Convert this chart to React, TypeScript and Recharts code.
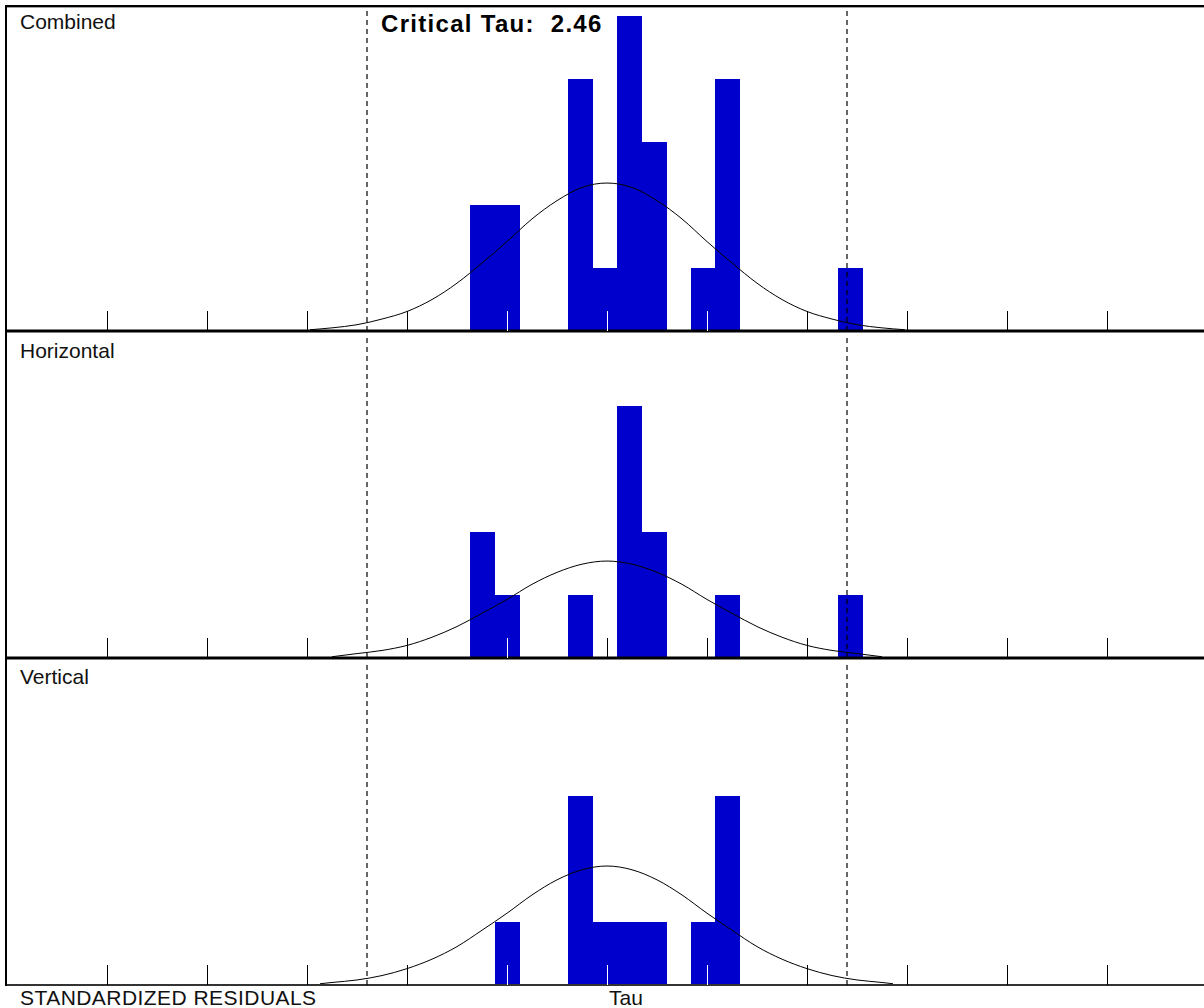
import React from "react";
import { ComposedChart, Bar, Line, XAxis, YAxis, ReferenceLine } from "recharts";

// histogram bins (tau units, tick spacing = 1)
const BIN_CENTERS = [-1.245, -1.0, -0.755, -0.51, -0.265, -0.02, 0.225, 0.47, 0.715, 0.96, 1.205, 1.45, 1.695, 1.94, 2.185, 2.43];
const BIN_WIDTH = 0.245;

const combinedCounts = [2, 2, 0, 0, 4, 1, 5, 3, 0, 1, 4, 0, 0, 0, 0, 1];
const horizontalCounts = [2, 1, 0, 0, 1, 0, 4, 2, 0, 0, 1, 0, 0, 0, 0, 1];
const verticalCounts = [0, 1, 0, 0, 3, 1, 1, 1, 0, 1, 3, 0, 0, 0, 0, 0];

// fitted normal curves
const combinedCurveX = [-2.97, -2.75, -2.5, -2.25, -2, -1.75, -1.5, -1.25, -1, -0.75, -0.5, -0.25, 0, 0.25, 0.5, 0.75, 1, 1.25, 1.5, 1.75, 2, 2.25, 2.5, 2.75, 2.98];
const combinedCurveY = [0.02, 0.05, 0.1, 0.19, 0.31, 0.5, 0.76, 1.08, 1.42, 1.78, 2.07, 2.28, 2.35, 2.28, 2.07, 1.78, 1.42, 1.08, 0.76, 0.5, 0.31, 0.19, 0.1, 0.05, 0.02];

const horizontalCurveX = [-2.75, -2.5, -2.25, -2, -1.75, -1.5, -1.25, -1, -0.75, -0.5, -0.25, 0, 0.25, 0.5, 0.75, 1, 1.25, 1.5, 1.75, 2, 2.25, 2.5, 2.75];
const horizontalCurveY = [0.02, 0.07, 0.12, 0.2, 0.33, 0.5, 0.71, 0.93, 1.17, 1.36, 1.49, 1.54, 1.49, 1.36, 1.17, 0.93, 0.71, 0.5, 0.33, 0.2, 0.12, 0.07, 0.02];

const verticalCurveX = [-2.87, -2.75, -2.5, -2.25, -2, -1.75, -1.5, -1.25, -1, -0.75, -0.5, -0.25, 0, 0.25, 0.5, 0.75, 1, 1.25, 1.5, 1.75, 2, 2.25, 2.5, 2.75, 2.86];
const verticalCurveY = [0.02, 0.04, 0.08, 0.15, 0.26, 0.41, 0.61, 0.87, 1.14, 1.43, 1.67, 1.83, 1.89, 1.83, 1.67, 1.43, 1.14, 0.87, 0.61, 0.41, 0.26, 0.15, 0.08, 0.04, 0.02];

const TICKS = [-5, -4, -3, -2, -1, 0, 1, 2, 3, 4, 5];
const CRITICAL_TAU = 2.46;
const CRITICAL_MARKS = [-2.4, 2.4];
const X_DOMAIN: [number, number] = [-6.01, 5.97];
const Y_MAX = 5.13;

const BLUE = "#0000cc";
const FONT = "'Liberation Sans', Arial, sans-serif";
const CHART_MARGIN = { top: 0, right: 0, bottom: 3, left: 6 };

interface PanelProps {
  counts: number[];
  curveX: number[];
  curveY: number[];
  top: number;
  baseWidth: number;
  baseColor: string;
}

// bars drawn a pixel wider so neighbouring bins join up
const BinShape = (p: any) => {
  if (!p.height || p.height <= 0) return <g />;
  return <rect x={p.x} y={p.y} width={p.width + 1} height={p.height} fill={BLUE} shapeRendering="crispEdges" />;
};

function Panel({ counts, curveX, curveY, top, baseWidth, baseColor }: PanelProps) {
  const bins = BIN_CENTERS.map((x, i) => ({ x, count: counts[i] }));
  const curve = curveX.map((x, i) => ({ x, y: curveY[i] }));

  // tick marks point up; white where they sit on a bar
  const renderTick = (p: any) => {
    const v = p.payload.value;
    const covered = bins.some((b) => b.count > 0 && Math.abs(b.x - v) < BIN_WIDTH / 2);
    return (
      <line
        x1={p.x}
        x2={p.x}
        y1={p.y}
        y2={p.y - 20}
        stroke={covered ? "#fff" : "#000"}
        strokeWidth={1}
        shapeRendering="crispEdges"
      />
    );
  };

  return (
    <>
      <div style={{ position: "absolute", left: 0, top, width: 1204, height: 326 }}>
        <ComposedChart width={1204} height={326} data={bins} margin={CHART_MARGIN}>
          <XAxis
            dataKey="x"
            type="number"
            domain={X_DOMAIN}
            ticks={TICKS}
            interval={0}
            allowDataOverflow
            mirror
            tickSize={0}
            tickMargin={0}
            tickLine={false}
            axisLine={{ stroke: baseColor, strokeWidth: baseWidth }}
            tick={renderTick}
          />
          <XAxis xAxisId="curve" dataKey="x" type="number" domain={X_DOMAIN} allowDataOverflow hide />
          <YAxis domain={[0, Y_MAX]} allowDataOverflow hide />
          <Bar dataKey="count" barSize={24} shape={BinShape} isAnimationActive={false} />
          <Line
            xAxisId="curve"
            data={curve}
            dataKey="y"
            type="monotone"
            stroke="#000"
            strokeWidth={1}
            dot={false}
            isAnimationActive={false}
          />
        </ComposedChart>
      </div>
      {/* critical-tau markers sit on top of the bars */}
      <div style={{ position: "absolute", left: 0, top, width: 1204, height: 326, pointerEvents: "none", zIndex: 2 }}>
        <ComposedChart width={1204} height={326} data={bins} margin={CHART_MARGIN}>
          <XAxis dataKey="x" type="number" domain={X_DOMAIN} allowDataOverflow hide />
          <YAxis domain={[0, Y_MAX]} allowDataOverflow hide />
          {CRITICAL_MARKS.map((m) => (
            <ReferenceLine key={m} x={m} stroke="#000" strokeWidth={1.2} strokeDasharray="5 4" />
          ))}
        </ComposedChart>
      </div>
    </>
  );
}

const labelStyle: React.CSSProperties = {
  position: "absolute",
  fontFamily: FONT,
  fontSize: 21,
  lineHeight: "21px",
  color: "#111",
  whiteSpace: "nowrap",
};

export default function App() {
  return (
    <div style={{ position: "absolute", left: 0, top: 0, width: 1204, height: 1008, background: "#fff", overflow: "hidden" }}>
      <Panel counts={combinedCounts} curveX={combinedCurveX} curveY={combinedCurveY} top={8} baseWidth={3} baseColor="#000" />
      <Panel counts={horizontalCounts} curveX={horizontalCurveX} curveY={horizontalCurveY} top={335} baseWidth={3} baseColor="#000" />
      <Panel counts={verticalCounts} curveX={verticalCurveX} curveY={verticalCurveY} top={662} baseWidth={2} baseColor="#333" />

      {/* frame */}
      <div style={{ position: "absolute", left: 5, top: 5, width: 1199, height: 2, background: "#000" }} />
      <div style={{ position: "absolute", left: 7, top: 7, width: 1197, height: 1, background: "#a0a0a0" }} />
      <div style={{ position: "absolute", left: 5, top: 5, width: 2, height: 981, background: "#000" }} />

      <div style={{ ...labelStyle, left: 20, top: 11 }}>Combined</div>
      <div style={{ ...labelStyle, left: 20, top: 340 }}>Horizontal</div>
      <div style={{ ...labelStyle, left: 20, top: 666 }}>Vertical</div>
      <div style={{ ...labelStyle, left: 381, top: 12, fontSize: 24, lineHeight: "24px", fontWeight: "bold", letterSpacing: 1.3, color: "#000" }}>
        {`Critical Tau:\u00a0\u00a0${CRITICAL_TAU.toFixed(2)}`}
      </div>
      <div style={{ ...labelStyle, left: 20, top: 987, letterSpacing: 0.45 }}>STANDARDIZED RESIDUALS</div>
      <div style={{ ...labelStyle, left: 609, top: 987 }}>Tau</div>
    </div>
  );
}
